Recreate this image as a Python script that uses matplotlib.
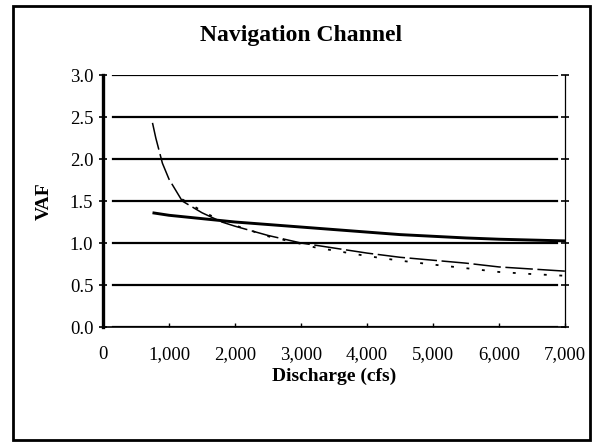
import matplotlib
matplotlib.use("Agg")
import matplotlib.pyplot as plt
from matplotlib.patches import Rectangle
from matplotlib.ticker import FuncFormatter

# ---- data ----
x_thick = [750, 1000, 1500, 2000, 2500, 3000, 3500, 4000, 4500, 5000, 5500, 6000, 6500, 7000]
y_thick = [1.36, 1.33, 1.29, 1.25, 1.22, 1.19, 1.16, 1.13, 1.10, 1.08, 1.06, 1.045, 1.035, 1.025]

x_dash = [750, 800, 900, 1000, 1200, 1500, 1800, 2000, 2500, 3000, 3500, 4000, 4500, 5000, 5500, 6000, 6500, 7000]
y_dash = [2.43, 2.25, 1.95, 1.76, 1.50, 1.36, 1.25, 1.20, 1.09, 1.00, 0.94, 0.88, 0.83, 0.795, 0.76, 0.715, 0.69, 0.665]

x_dot = [1200, 1500, 1700, 2000, 2500, 3000, 3200, 3500, 4000, 4500, 5000, 5500, 6000, 6500, 7000]
y_dot = [1.52, 1.38, 1.30, 1.21, 1.08, 0.99, 0.95, 0.91, 0.845, 0.79, 0.743, 0.70, 0.655, 0.63, 0.61]

x_ticks = [0, 1000, 2000, 3000, 4000, 5000, 6000, 7000]
y_ticks = [0.0, 0.5, 1.0, 1.5, 2.0, 2.5, 3.0]

title = "Navigation Channel"
xlabel = "Discharge (cfs)"
ylabel = "VAF"

plt.rcParams['font.family'] = ['Liberation Serif', 'DejaVu Serif']

W, H = 601, 444
fig = plt.figure(figsize=(W / 100, H / 100), dpi=100)
fig.patch.set_facecolor('white')

ax = fig.add_axes([103 / W, 1 - 327 / H, (565 - 103) / W, (327 - 75) / H])
ax.set_xlim(0, 7000)
ax.set_ylim(0, 3.0)

# gridlines
for yv in y_ticks:
    ax.axhline(yv, xmin=0.022, xmax=0.982, color='black', lw=1.6, zorder=1)

ax.plot(x_thick, y_thick, color='black', lw=2.1, solid_capstyle='butt', zorder=3)
ax.plot(x_dash, y_dash, color='black', lw=1.1, linestyle=(0, (18, 3)), zorder=3)
ax.plot(x_dot, y_dot, color='black', lw=1.3, linestyle=(0, (1.6, 7)), zorder=3)

ax.set_xticks(x_ticks)
ax.set_yticks(y_ticks)
ax.xaxis.set_major_formatter(FuncFormatter(lambda v, p: f"{int(v):,}"))
ax.yaxis.set_major_formatter(FuncFormatter(lambda v, p: f"{v:.1f}"))
ax.tick_params(axis='y', direction='inout', length=6, width=1.2, labelsize=13.5, pad=4)
ax.tick_params(axis='x', direction='in', length=3, width=1.0, labelsize=13.5, pad=14)
ax.tick_params(axis='y', which='both', right=True, left=True)

ax.spines['top'].set_visible(False)
ax.spines['left'].set_linewidth(2.4)
ax.spines['bottom'].set_linewidth(1.2)
ax.spines['right'].set_linewidth(0.9)

ax.set_xlabel(xlabel, fontsize=14, fontweight='bold', labelpad=3)
ax.set_ylabel(ylabel, fontsize=14, fontweight='bold', labelpad=12)

fig.text(301 / W, 1 - 35 / H, title, ha='center', va='center', fontsize=17, fontweight='bold')

# outer frame
fig.patches.append(Rectangle((13 / W, 1 - 440 / H), (590 - 13) / W, (440 - 6) / H,
                             transform=fig.transFigure, fill=False, lw=2.0, edgecolor='black'))

fig.savefig("out.png", dpi=100, facecolor='white')
